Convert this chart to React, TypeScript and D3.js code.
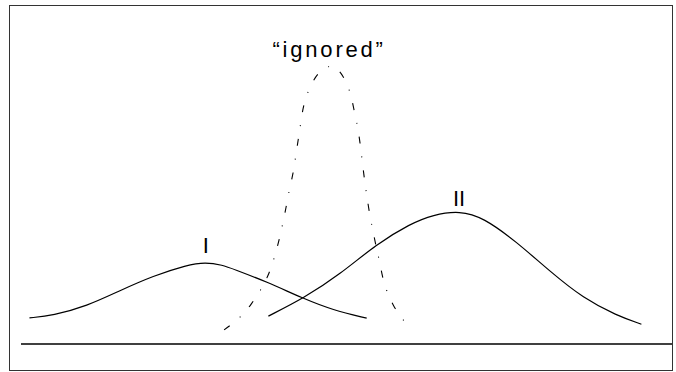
import React from "react";
import * as d3 from "d3";

// Curve samples (x: 0..100 across the baseline, y: height above baseline 0..100)
const curveIX = [1.3, 4.9, 10.1, 15.2, 20.3, 25.5, 28.3, 31.0, 32.6, 37.7, 43.3, 47.9, 53.1];
const curveIY = [8.7, 9.5, 12.6, 17.8, 22.7, 26.3, 27.3, 26.3, 25.0, 20.8, 15.2, 11.3, 8.6];

const curveIIX = [38.0, 43.4, 49.0, 54.6, 59.8, 63.3, 67.4, 71.0, 76.1, 81.3, 86.4, 91.5, 95.3];
const curveIIY = [9.3, 15.2, 23.2, 33.3, 40.1, 43.1, 44.4, 42.2, 34.1, 24.1, 15.2, 9.5, 6.6];

const ignoredX = [31.2, 33.8, 35.4, 36.9, 38.0, 38.9, 39.6, 40.2, 40.7, 41.2, 41.8, 42.2, 42.6, 43.0, 43.4, 44.3, 45.6, 47.5, 48.3, 49.5, 50.6, 51.1, 51.7, 52.1, 52.4, 52.8, 53.1, 53.5, 54.0, 54.5, 55.1, 55.7, 56.5, 57.3, 58.5, 59.5];
const ignoredY = [4.7, 8.9, 13.3, 18.2, 22.8, 28.6, 34.2, 40.0, 45.3, 51.3, 56.7, 62.7, 68.3, 74.1, 80.0, 85.4, 90.6, 93.0, 92.4, 89.5, 84.1, 78.5, 72.7, 66.8, 61.3, 54.0, 49.7, 43.9, 38.3, 33.0, 27.3, 20.3, 16.1, 12.2, 8.5, 6.0];

const labelTexts = ["I", "II", "\u201Cignored\u201D"];
const labelX = [28.4, 67.3, 47.1];
const labelY = [30.4, 46.0, 95.7];

const W = 676;
const H = 372;

export default function App() {
  const x = d3.scaleLinear().domain([0, 100]).range([21, 672]);
  const y = d3.scaleLinear().domain([0, 100]).range([344, 44]);

  const line = d3
    .line<[number, number]>()
    .x((d) => x(d[0]))
    .y((d) => y(d[1]))
    .curve(d3.curveBasis);

  const zip = (xs: number[], ys: number[]) => xs.map((v, i) => [v, ys[i]] as [number, number]);

  const pI = line(zip(curveIX, curveIY)) || "";
  const pII = line(zip(curveIIX, curveIIY)) || "";
  const pIg = line(zip(ignoredX, ignoredY)) || "";

  const font = "'Liberation Sans', Arial, Helvetica, sans-serif";

  return (
    <svg
      width={W}
      height={H}
      style={{ position: "absolute", left: 0, top: 0, background: "#fff" }}
    >
      <rect x={9.5} y={5.5} width={663} height={365} fill="#fff" stroke="#333" strokeWidth={1} />
      <line x1={x(0)} x2={x(100)} y1={y(0)} y2={y(0)} stroke="#000" strokeWidth={1.3} />
      <path d={pI} fill="none" stroke="#000" strokeWidth={1.2} />
      <path d={pII} fill="none" stroke="#000" strokeWidth={1.2} />
      <path d={pIg} fill="none" stroke="#000" strokeWidth={1.1} strokeDasharray="7 13 1 13" />
      {labelTexts.map((t, i) => (
        <text
          key={t}
          x={x(labelX[i]) + (i === 2 ? 1.5 : 0)}
          y={y(labelY[i])}
          textAnchor="middle"
          fontFamily={font}
          fontSize={22}
          letterSpacing={i === 2 ? 2.8 : 0}
          fill="#000"
        >
          {t}
        </text>
      ))}
    </svg>
  );
}
